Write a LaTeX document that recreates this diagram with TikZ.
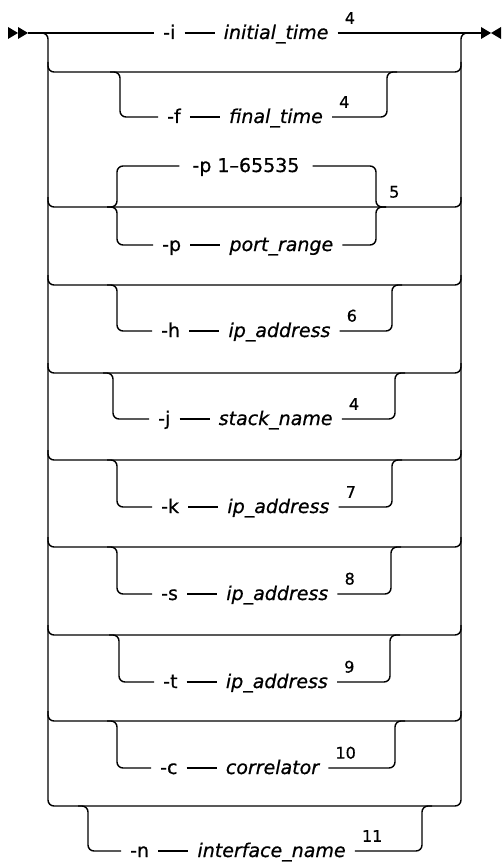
\documentclass[tikz,border=0pt]{standalone}
\usepackage{fontspec}
\setmainfont{DejaVu Sans}[FakeBold=0.7, ItalicFeatures={FakeBold=0.7}]
\usetikzlibrary{positioning, calc}

\begin{document}
\begin{tikzpicture}[
    x=1pt, y=-1pt,
    node distance=30pt,
    rail/.style={line width=1.4pt, black, rounded corners=6pt},
    flag/.style={font=\fontsize{19}{22}\selectfont, inner xsep=9pt, inner ysep=0pt,
                 text height=15pt, text depth=3pt},
    arg/.style={flag, font=\fontsize{19}{22}\selectfont\itshape},
    note/.style={font=\fontsize{16}{19}\selectfont, inner sep=1pt}
]
\useasboundingbox (0,0) rectangle (502,864);

% --- Rails ---
\coordinate (start) at (28,33);
\coordinate (stop) at (481,33);
\coordinate (lt) at (48,33);
\coordinate (rt) at (461,33);
\coordinate (lb) at (48,806);
\coordinate (rb) at (461,806);
\draw[rail] ([xshift=-10pt]lt) -- (lt) -- (lb) -- (rb) -- (rt) -- ([xshift=10pt]rt);
\fill (start) -- ++(-10pt,6pt) -- ++(0,-12pt) -- cycle;
\fill ([xshift=-10pt]start) -- ++(-10pt,6pt) -- ++(0,-12pt) -- cycle;
\fill (stop) -- ++(10pt,0) -- ++(-10pt,6pt) -- cycle;
\fill (stop) -- ++(10pt,0) -- ++(-10pt,-6pt) -- cycle;
\fill ([xshift=10pt]stop) -- ++(10pt,6pt) -- ++(0,-12pt) -- cycle;

% --- -i initial_time ---
\node[flag, anchor=west] (ifl) at (154,33) {-i};
\node[arg, right=of ifl] (iarg) {initial\_time};
\node[note, above right=8pt and 6pt of iarg.east] (in) {4};
\draw[rail] (start) -- (ifl);
\draw[rail] (ifl) -- (iarg);
\draw[rail] (iarg) -- (stop);

% --- -f final_time ---
\coordinate (fr) at (48,72);
\coordinate (fa) at (120,72);
\coordinate (fb) at (387,72);
\node[flag, anchor=west] (ffl) at (158,117) {-f};
\node[arg, right=of ffl] (farg) {final\_time};
\node[note, above right=8pt and 6pt of farg.east] (fn) {4};
\draw[rail] (fr) ++(0,10pt) -- (fr) -- (fr -| rt) -- ++(0,10pt);
\draw[rail] ([xshift=-10pt]fa) -- (fa) |- (ffl);
\draw[rail] (ffl) -- (farg);
\draw[rail] (farg) -| (fb) -- ++(10pt,0);

% --- -p port_range ---
\coordinate (pr) at (48,207);
\coordinate (pa) at (117,207);
\coordinate (pb) at (376,207);
\node[flag, inner xsep=13pt] (pdef) at (246,166) {-p 1–65535};
\node[flag, anchor=west] (pfl) at (153,245) {-p};
\node[arg, right=of pfl] (parg) {port\_range};
\node[note, above right=8pt and 12pt of pb] (pn) {5};
\draw[rail] (pr) ++(0,10pt) -- (pr) -- (pr -| rt) -- ++(0,10pt);
\draw[rail] ([xshift=-10pt]pa) -- (pa) |- (pdef);
\draw[rail] ([xshift=-10pt]pa) -- (pa) |- (pfl);
\draw[rail] (pfl) -- (parg);
\draw[rail] (pdef) -| (pb) -- ++(10pt,0);
\draw[rail] (parg) -| (pb) -- ++(10pt,0);

% --- -h ip_address ---
\coordinate (hr) at (48,285);
\coordinate (ha) at (117,285);
\coordinate (hb) at (392,285);
\node[flag, anchor=west] (hfl) at (152,331) {-h};
\node[arg, right=of hfl] (harg) {ip\_address};
\node[note, above right=8pt and 6pt of harg.east] (hn) {6};
\draw[rail] (hr) ++(0,10pt) -- (hr) -- (hr -| rt) -- ++(0,10pt);
\draw[rail] ([xshift=-10pt]ha) -- (ha) |- (hfl);
\draw[rail] (hfl) -- (harg);
\draw[rail] (harg) -| (hb) -- ++(10pt,0);

% --- -j stack_name ---
\coordinate (jr) at (48,373);
\coordinate (ja) at (113,373);
\coordinate (jb) at (395,373);
\node[flag, anchor=west] (jfl) at (149,419) {-j};
\node[arg, right=of jfl] (jarg) {stack\_name};
\node[note, above right=8pt and 6pt of jarg.east] (jn) {4};
\draw[rail] (jr) ++(0,10pt) -- (jr) -- (jr -| rt) -- ++(0,10pt);
\draw[rail] ([xshift=-10pt]ja) -- (ja) |- (jfl);
\draw[rail] (jfl) -- (jarg);
\draw[rail] (jarg) -| (jb) -- ++(10pt,0);

% --- -k ip_address ---
\coordinate (kr) at (48,460);
\coordinate (ka) at (117,460);
\coordinate (kb) at (392,460);
\node[flag, anchor=west] (kfl) at (152,507) {-k};
\node[arg, right=of kfl] (karg) {ip\_address};
\node[note, above right=8pt and 6pt of karg.east] (kn) {7};
\draw[rail] (kr) ++(0,10pt) -- (kr) -- (kr -| rt) -- ++(0,10pt);
\draw[rail] ([xshift=-10pt]ka) -- (ka) |- (kfl);
\draw[rail] (kfl) -- (karg);
\draw[rail] (karg) -| (kb) -- ++(10pt,0);

% --- -s ip_address ---
\coordinate (sr) at (48,547);
\coordinate (sa) at (117,547);
\coordinate (sb) at (391,547);
\node[flag, anchor=west] (sfl) at (152,594) {-s};
\node[arg, right=of sfl] (sarg) {ip\_address};
\node[note, above right=8pt and 6pt of sarg.east] (sn) {8};
\draw[rail] (sr) ++(0,10pt) -- (sr) -- (sr -| rt) -- ++(0,10pt);
\draw[rail] ([xshift=-10pt]sa) -- (sa) |- (sfl);
\draw[rail] (sfl) -- (sarg);
\draw[rail] (sarg) -| (sb) -- ++(10pt,0);

% --- -t ip_address ---
\coordinate (tr) at (48,635);
\coordinate (ta) at (119,635);
\coordinate (tb) at (390,635);
\node[flag, anchor=west] (tfl) at (154,682) {-t};
\node[arg, right=of tfl] (targ) {ip\_address};
\node[note, above right=8pt and 6pt of targ.east] (tn) {9};
\draw[rail] (tr) ++(0,10pt) -- (tr) -- (tr -| rt) -- ++(0,10pt);
\draw[rail] ([xshift=-10pt]ta) -- (ta) |- (tfl);
\draw[rail] (tfl) -- (targ);
\draw[rail] (targ) -| (tb) -- ++(10pt,0);

% --- -c correlator ---
\coordinate (cr) at (48,721);
\coordinate (ca) at (117,721);
\coordinate (cb) at (395,721);
\node[flag, anchor=west] (cfl) at (151,768) {-c};
\node[arg, right=of cfl] (carg) {correlator};
\node[note, above right=8pt and 6pt of carg.east] (cn) {10};
\draw[rail] (cr) ++(0,10pt) -- (cr) -- (cr -| rt) -- ++(0,10pt);
\draw[rail] ([xshift=-10pt]ca) -- (ca) |- (cfl);
\draw[rail] (cfl) -- (carg);
\draw[rail] (carg) -| (cb) -- ++(10pt,0);

% --- -n interface_name ---
\coordinate (na) at (88,806);
\coordinate (nb) at (422,806);
\node[flag, anchor=west] (nfl) at (121,851) {-n};
\node[arg, right=of nfl] (narg) {interface\_name};
\node[note, above right=8pt and 6pt of narg.east] (nn) {11};
\draw[rail] ([xshift=-10pt]na) -- (na) |- (nfl);
\draw[rail] (nfl) -- (narg);
\draw[rail] (narg) -| (nb) -- ++(10pt,0);

\end{tikzpicture}
\end{document}
